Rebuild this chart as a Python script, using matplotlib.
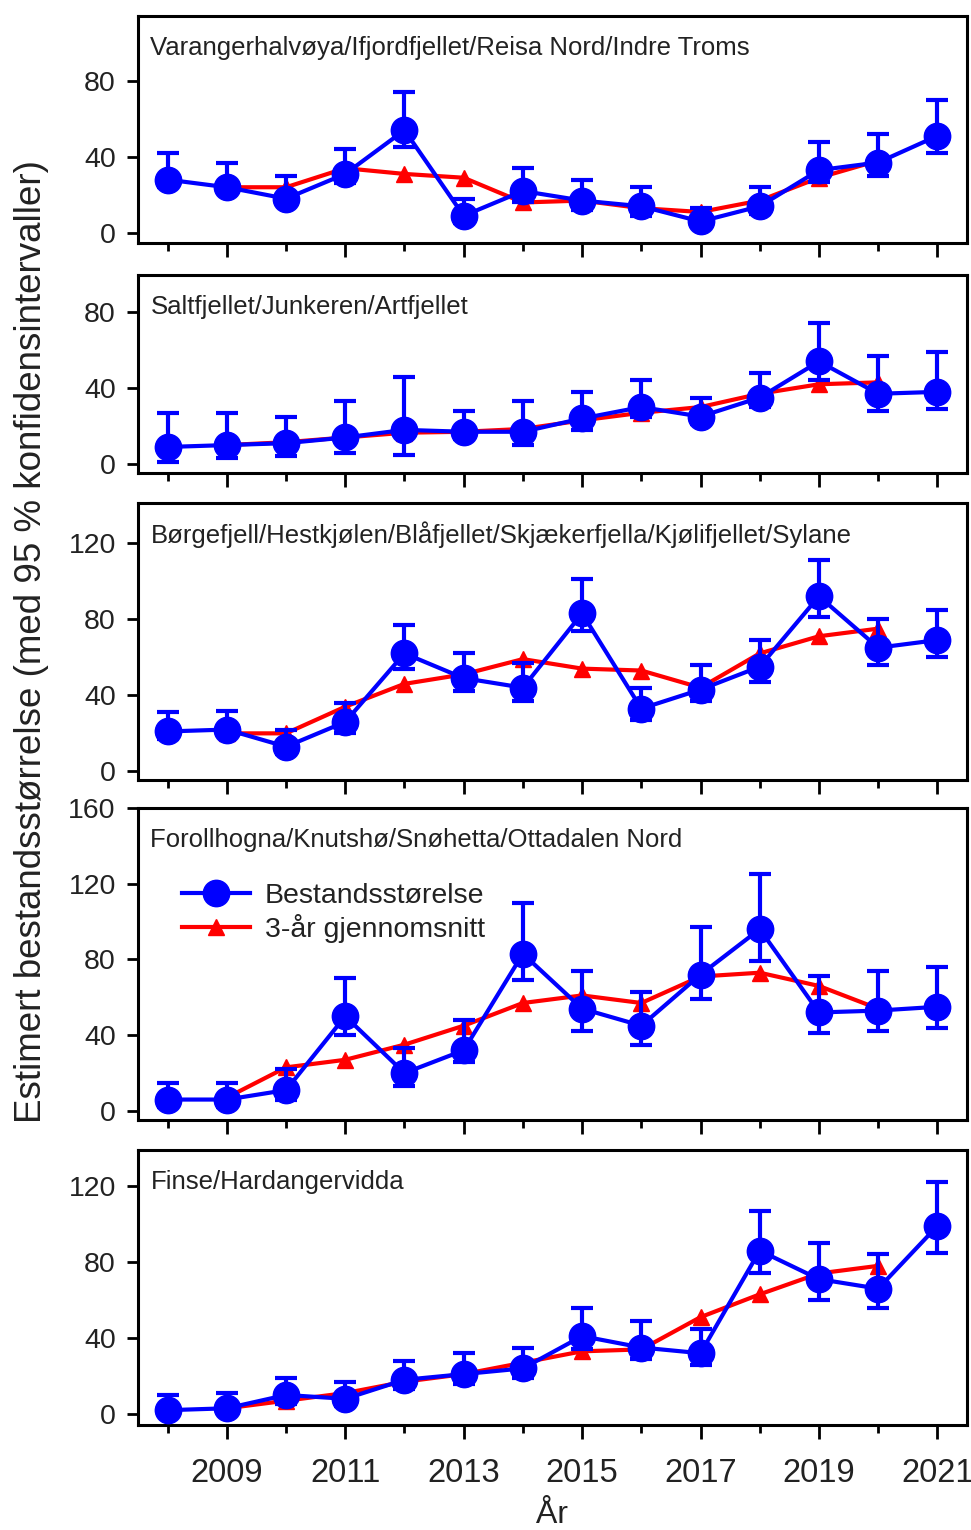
import matplotlib

matplotlib.use("Agg")
import matplotlib.pyplot as plt
import numpy as np
from matplotlib.lines import Line2D
from matplotlib.ticker import FixedLocator

years = np.arange(2008, 2022)
avg_years = np.arange(2009, 2021)

titles = [
    "Varangerhalvøya/Ifjordfjellet/Reisa Nord/Indre Troms",
    "Saltfjellet/Junkeren/Artfjellet",
    "Børgefjell/Hestkjølen/Blåfjellet/Skjækerfjella/Kjølifjellet/Sylane",
    "Forollhogna/Knutshø/Snøhetta/Ottadalen Nord",
    "Finse/Hardangervidda",
]

# estimates, lower / upper 95 % limits, 3-year running mean (2009-2020)
vara_est = [28, 24, 18, 31, 54, 9, 22, 17, 14, 6, 14, 33, 37, 51]
vara_lo = [24, 21, 15, 26, 45, 5, 16, 12, 9, 3, 10, 27, 30, 42]
vara_hi = [42, 37, 30, 44, 74, 18, 34, 28, 24, 13, 24, 48, 52, 70]
vara_avg = [24, 24, 34, 31, 29, 16, 17, 13, 11, 17, 29, 38]

salt_est = [9, 10, 11, 14, 18, 17, 17, 24, 30, 25, 35, 54, 37, 38]
salt_lo = [1, 3, 4, 6, 5, 13, 10, 18, 25, 21, 30, 44, 28, 29]
salt_hi = [27, 27, 25, 33, 46, 28, 33, 38, 44, 35, 48, 74, 57, 59]
salt_avg = [10, 11.5, 14, 16.5, 17, 18.5, 23, 27, 30, 37, 42, 43]

borg_est = [21, 22, 13, 26, 62, 49, 44, 83, 33, 43, 55, 92, 65, 69]
borg_lo = [17, 19, 9, 20, 54, 42, 37, 74, 27, 37, 47, 81, 56, 60]
borg_hi = [31, 32, 22, 36, 77, 62, 57, 101, 44, 56, 69, 111, 80, 85]
borg_avg = [20, 20, 34, 46, 51, 59, 54, 53, 44, 62, 71, 75]

foro_est = [6, 6, 11, 50, 20, 32, 83, 54, 45, 72, 96, 52, 53, 55]
foro_lo = [2, 2, 6, 40, 13, 26, 69, 42, 35, 59, 79, 41, 42, 44]
foro_hi = [15, 15, 22, 70, 33, 48, 110, 74, 63, 97, 125, 71, 74, 76]
foro_avg = [7, 23, 27, 35, 45, 57, 61, 57, 71, 73, 66, 54]

fins_est = [2, 3, 10, 8, 18, 21, 24, 41, 35, 32, 86, 71, 66, 99]
fins_lo = [0, 1, 5, 4, 13, 16, 19, 34, 29, 26, 74, 60, 56, 85]
fins_hi = [10, 11, 19, 17, 28, 32, 35, 56, 49, 45, 107, 90, 84, 122]
fins_avg = [3, 7, 11, 17, 21, 27, 33, 34, 51, 63, 74, 78]

panels = [
    (vara_est, vara_lo, vara_hi, vara_avg),
    (salt_est, salt_lo, salt_hi, salt_avg),
    (borg_est, borg_lo, borg_hi, borg_avg),
    (foro_est, foro_lo, foro_hi, foro_avg),
    (fins_est, fins_lo, fins_hi, fins_avg),
]
ylims = [(-5.3, 114), (-4.7, 99.5), (-4.5, 141), (-4.8, 160), (-5.8, 139)]
yticks = [[0, 40, 80], [0, 40, 80], [0, 40, 80, 120],
          [0, 40, 80, 120, 160], [0, 40, 80, 120]]
# panel extents in pixels (top, bottom) on a 971 x 1530 canvas
boxes_px = [(16, 243), (275, 473), (503, 780), (808, 1120), (1150, 1425)]

TXT = "#222222"
plt.rcParams.update({"font.family": ["Liberation Sans", "DejaVu Sans"],
                     "text.color": TXT, "axes.labelcolor": TXT,
                     "xtick.color": "black", "ytick.color": "black",
                     "xtick.labelcolor": TXT, "ytick.labelcolor": TXT})

W, H = 971, 1530
fig = plt.figure(figsize=(W / 100, H / 100), dpi=100)
left, right = 138 / W, 967 / W

axes = []
for i, ((est, lo, hi, avg), (top, bot)) in enumerate(zip(panels, boxes_px)):
    ax = fig.add_axes([left, 1 - bot / H, right - left, (bot - top) / H])
    axes.append(ax)
    est = np.array(est, float)
    yerr = [est - np.array(lo, float), np.array(hi, float) - est]
    ax.plot(avg_years, avg, "-^", color="red", lw=3, ms=12, zorder=2)
    ax.errorbar(years, est, yerr=yerr, fmt="-o", color="blue", lw=3, ms=19,
                elinewidth=3, capsize=8, capthick=3, zorder=3)
    ax.set_xlim(2007.5, 2021.5)
    ax.set_ylim(*ylims[i])
    ax.set_yticks(yticks[i])
    ax.xaxis.set_major_locator(FixedLocator(np.arange(2009, 2022, 2)))
    ax.xaxis.set_minor_locator(FixedLocator(np.arange(2008, 2022, 2)))
    ax.tick_params(axis="y", direction="out", length=8, width=2,
                   labelsize=20.5, pad=8)
    ax.tick_params(axis="x", which="major", direction="out", length=10,
                   width=2, labelsize=23.5, pad=14)
    ax.tick_params(axis="x", which="minor", direction="out", length=6, width=2)
    for s in ax.spines.values():
        s.set_linewidth(2.2)
        s.set_color("black")
    ax.annotate(titles[i], xy=(0, 1), xycoords="axes fraction",
                xytext=(9, -23), textcoords="offset points",
                ha="left", va="center", fontsize=18.5, color=TXT)
    if i < len(panels) - 1:
        ax.tick_params(axis="x", which="both", labelbottom=False)

handles = [Line2D([], [], color="blue", lw=3, marker="o", ms=19),
           Line2D([], [], color="red", lw=3, marker="^", ms=12)]
axes[3].legend(handles, ["Bestandsstørelse", "3-år gjennomsnitt"],
               loc="upper left", bbox_to_anchor=(0.029, 0.825), frameon=False,
               fontsize=20.5, handlelength=2.4, handletextpad=0.5,
               labelspacing=0.2, borderpad=0.2)

axes[-1].set_xlabel("År", fontsize=23, labelpad=8)
fig.text(0.032, 1 - 642 / H,
         "Estimert bestandsstørrelse (med 95 % konfidensintervaller)",
         rotation=90, ha="center", va="center", fontsize=26.5, color=TXT)

fig.savefig("out.png", dpi=100)
